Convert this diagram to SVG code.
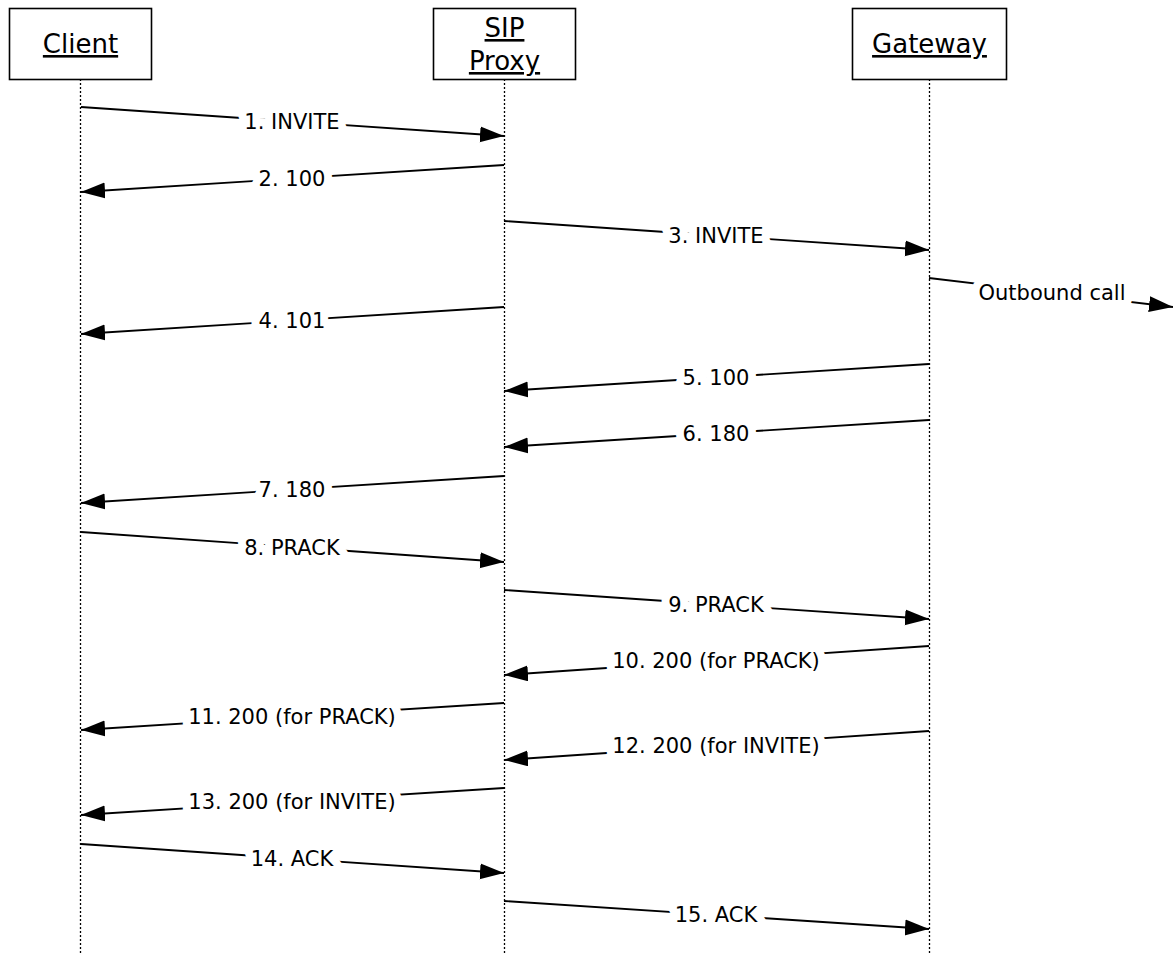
<svg xmlns="http://www.w3.org/2000/svg" width="1173" height="953" viewBox="0 0 1173 953">
<style>
.box{fill:#fff;stroke:#000;stroke-width:1.6}
.life{stroke:#000;stroke-width:1.3;stroke-dasharray:2 2;fill:none}
.hdr{font-family:"DejaVu Sans",Verdana,sans-serif;font-size:26px;text-anchor:middle;text-decoration:underline;fill:#000}
.msg{stroke:#000;stroke-width:1.8;fill:none;marker-end:url(#ah)}
.lbl{font-family:"DejaVu Sans",Verdana,sans-serif;font-size:21px;text-anchor:middle;fill:#000;stroke:#fff;stroke-width:16;stroke-linejoin:round;paint-order:stroke}
</style>
<defs>
<marker id="ah" markerUnits="userSpaceOnUse" markerWidth="26" markerHeight="18" refX="24" refY="8" orient="auto">
<path d="M0,0 L24,8 L0,16 Z" fill="#000"/>
</marker>
</defs>
<rect width="1173" height="953" fill="#fff"/>
<g id="client">
<line class="life" x1="80.5" y1="79" x2="80.5" y2="953"/>
<rect class="box" x="9.5" y="8.5" width="142" height="71"/>
<text class="hdr" x="80.5" y="53">Client</text>
</g>
<g id="sip-proxy">
<line class="life" x1="504.5" y1="79" x2="504.5" y2="953"/>
<rect class="box" x="433.5" y="8.5" width="142" height="71"/>
<text class="hdr" x="504.5" y="37">SIP</text>
<text class="hdr" x="504.5" y="70">Proxy</text>
</g>
<g id="gateway">
<line class="life" x1="929.5" y1="79" x2="929.5" y2="953"/>
<rect class="box" x="852.5" y="8.5" width="154" height="71"/>
<text class="hdr" x="929.5" y="53">Gateway</text>
</g>
<g id="connectors">
<line class="msg" x1="81" y1="107" x2="504" y2="136"/>
<text class="lbl" x="292" y="129">1. INVITE</text>
<line class="msg" x1="504" y1="165" x2="81" y2="192"/>
<text class="lbl" x="292" y="186">2. 100</text>
<line class="msg" x1="504" y1="221" x2="929" y2="250"/>
<text class="lbl" x="716" y="243">3. INVITE</text>
<line class="msg" x1="929" y1="278" x2="1173" y2="307"/>
<text class="lbl" x="1052" y="300">Outbound call</text>
<line class="msg" x1="504" y1="307" x2="81" y2="334"/>
<text class="lbl" x="292" y="328">4. 101</text>
<line class="msg" x1="929" y1="364" x2="504" y2="391"/>
<text class="lbl" x="716" y="385">5. 100</text>
<line class="msg" x1="929" y1="420" x2="504" y2="447"/>
<text class="lbl" x="716" y="441">6. 180</text>
<line class="msg" x1="504" y1="476" x2="81" y2="503"/>
<text class="lbl" x="292" y="497">7. 180</text>
<line class="msg" x1="81" y1="532" x2="504" y2="562"/>
<text class="lbl" x="292" y="555">8. PRACK</text>
<line class="msg" x1="504" y1="590" x2="929" y2="619"/>
<text class="lbl" x="716" y="612">9. PRACK</text>
<line class="msg" x1="929" y1="646" x2="504" y2="675"/>
<text class="lbl" x="716" y="668">10. 200 (for PRACK)</text>
<line class="msg" x1="504" y1="703" x2="81" y2="730"/>
<text class="lbl" x="292" y="724">11. 200 (for PRACK)</text>
<line class="msg" x1="929" y1="731" x2="504" y2="760"/>
<text class="lbl" x="716" y="753">12. 200 (for INVITE)</text>
<line class="msg" x1="504" y1="788" x2="81" y2="815"/>
<text class="lbl" x="292" y="809">13. 200 (for INVITE)</text>
<line class="msg" x1="81" y1="844" x2="504" y2="873"/>
<text class="lbl" x="292" y="866">14. ACK</text>
<line class="msg" x1="504" y1="901" x2="929" y2="929"/>
<text class="lbl" x="716" y="922">15. ACK</text>
</g>
</svg>
